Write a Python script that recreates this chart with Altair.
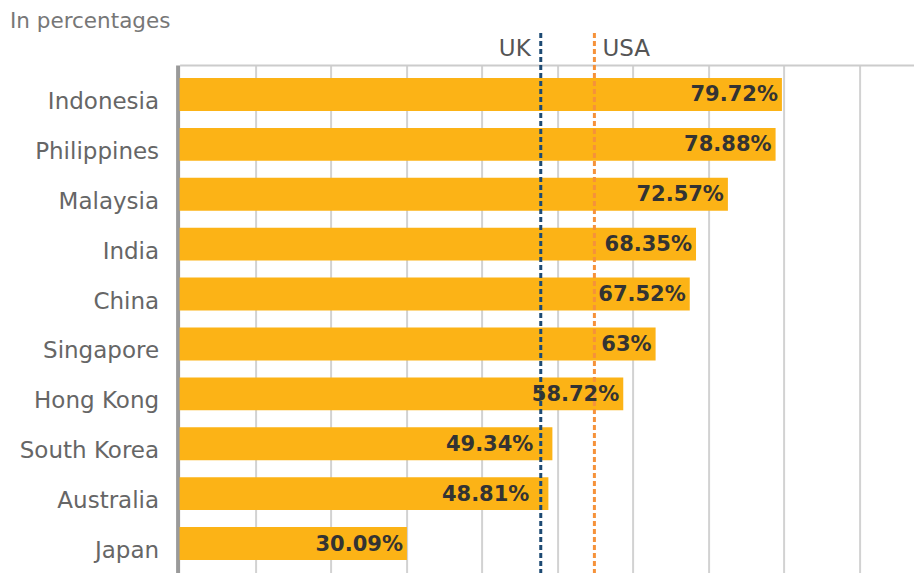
import altair as alt
import pandas as pd

# ---- data ----
countries = ["Indonesia", "Philippines", "Malaysia", "India", "China",
             "Singapore", "Hong Kong", "South Korea", "Australia", "Japan"]
values = [79.72, 78.88, 72.57, 68.35, 67.52, 63, 58.72, 49.34, 48.81, 30.09]
ref_names = ["UK", "USA"]
ref_values = [47.8, 54.9]
ref_colors = ["#1d4a73", "#f5923a"]
grid_values = [10, 20, 30, 40, 50, 60, 70, 80, 90]
title_text = "In percentages"

FONT = "DejaVu Sans"
W = 734.4
H = 508
PAD_L = 171.6
PAD_T = 57

df = pd.DataFrame({
    "country": countries,
    "value": values,
    "label": [f"{v:g}%" for v in values],
})
# labels of bars ending just past the UK line are nudged left of that line
near_uk = (df["value"] - ref_values[0]).between(0, 3)
df_normal = df[~near_uk]
df_near = df[near_uk]
refs = pd.DataFrame({"name": ref_names, "value": ref_values, "color": ref_colors})

x = alt.X(
    "value:Q",
    scale=alt.Scale(domain=[0, 97.2], nice=False, zero=True),
    axis=alt.Axis(orient="top", values=grid_values, labels=False, ticks=False,
                  title=None, domainColor="#cccccc", domainWidth=2,
                  gridColor="#d2d2d2", gridWidth=2),
)
y = alt.Y(
    "country:N", sort=countries,
    scale=alt.Scale(paddingInner=0.34, paddingOuter=0.26),
    axis=alt.Axis(title=None, ticks=False, grid=False, domainColor="#9a9a9a",
                  domainWidth=4, offset=2, labelFont=FONT, labelFontSize=23,
                  labelColor="#666666", labelPadding=19, labelOffset=7.5),
)

bars = alt.Chart(df).mark_bar(color="#FCB316").encode(x=x, y=y)

rules = alt.Chart(refs).mark_rule(strokeWidth=3, strokeDash=[5, 3]).encode(
    x="value:Q",
    y=alt.value(-32),
    y2=alt.value(H),
    color=alt.Color("color:N", scale=None),
)

text_style = dict(align="right", baseline="middle", dy=1, font=FONT, fontSize=21,
                  fontWeight="bold", color="#333333")

texts = alt.Chart(df_normal).mark_text(dx=-4, **text_style).encode(
    x="value:Q", y=alt.Y("country:N", sort=countries), text="label:N")
texts_near = alt.Chart(df_near).mark_text(dx=-19, **text_style).encode(
    x="value:Q", y=alt.Y("country:N", sort=countries), text="label:N")

uk_lbl = alt.Chart(refs.iloc[[0]]).mark_text(
    align="right", baseline="alphabetic", dx=-10, font=FONT, fontSize=23,
    color="#555555",
).encode(x="value:Q", y=alt.value(-9), text="name:N")

usa_lbl = alt.Chart(refs.iloc[[1]]).mark_text(
    align="left", baseline="alphabetic", dx=8, font=FONT, fontSize=23,
    color="#555555",
).encode(x="value:Q", y=alt.value(-9), text="name:N")

title = alt.Chart(pd.DataFrame({"t": [title_text]})).mark_text(
    align="left", baseline="alphabetic", font=FONT, fontSize=21.5, color="#777777",
).encode(x=alt.value(-169.6), y=alt.value(-37), text="t:N")

chart = alt.layer(bars, rules, texts, texts_near, uk_lbl, usa_lbl, title).properties(
    width=W, height=H,
    autosize=alt.AutoSizeParams(type="none"),
    padding={"left": PAD_L, "top": PAD_T, "right": 0, "bottom": 0},
).configure_view(stroke=None)

chart.save("out.html", embed_options={"renderer": "svg", "actions": False})
